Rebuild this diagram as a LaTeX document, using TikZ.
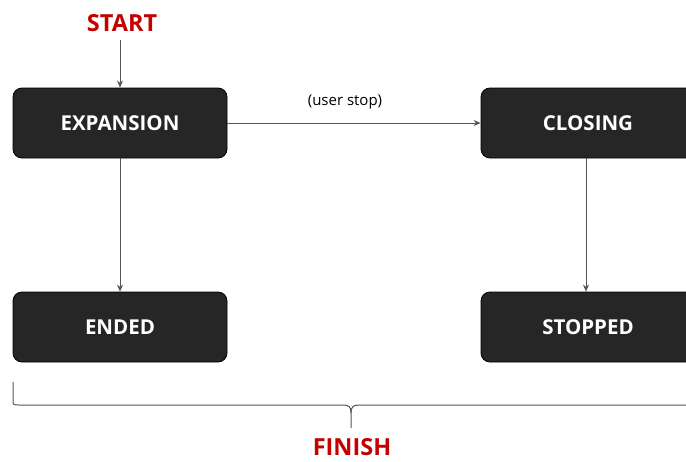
\documentclass[tikz,border=0pt]{standalone}
\usepackage{fontspec}
\setmainfont{Open Sans}
\usetikzlibrary{arrows.meta}
\definecolor{boxfill}{HTML}{262626}
\definecolor{startred}{HTML}{C40000}
\definecolor{linegray}{HTML}{555555}
\tikzset{
  state/.style={draw=black, line width=0.8pt, fill=boxfill, rounded corners=9pt,
    minimum width=214pt, minimum height=70pt, inner sep=0pt,
    text=white, font=\bfseries\fontsize{20.5}{24}\selectfont},
  marker/.style={text=startred, font=\bfseries\fontsize{23.5}{28}\selectfont, inner sep=0pt},
  flow/.style={draw=linegray, line width=1pt, -{Stealth[length=7pt,width=6pt]}},
  note/.style={font=\fontsize{15}{18}\selectfont, inner sep=0pt},
  bracket/.style={draw=linegray, line width=1pt}
}
\begin{document}
\begin{tikzpicture}[x=1pt,y=-1pt]
  \useasboundingbox (0,0) rectangle (686,461);
  \clip (0,0) rectangle (686,461);
  \fill[white] (0,0) rectangle (686,461);

  % states
  \node[state] (exp) at (120,123) {EXPANSION};
  \node[state] (clo) at (588,123) {CLOSING};
  \node[state] (end) at (120,327) {ENDED};
  \node[state] (stp) at (588,327) {STOPPED};

  % entry and exit labels
  \node[marker] (start) at (122,23) {START};
  \node[marker, anchor=base] (finish) at (352,455) {FINISH};
  \coordinate (startfoot) at (120,40);

  % transitions
  \draw[flow] (startfoot) -- (exp.north);
  \draw[flow] (exp.east) -- node[note, above=13pt, xshift=-9pt] (lbl) {(user stop)} (clo.west);
  \draw[flow] (exp.south) -- (end.north);
  \draw[flow] ([xshift=-2pt]clo.south) -- ([xshift=-2pt]stp.north);

  % brace grouping the final states
  \draw[bracket] (13,382) -- (13,401)
    .. controls (13,405) and (14,405) .. (19,405) -- (343,405)
    .. controls (349,405) and (351,407) .. (351,413) -- (351,428);
  \draw[bracket] (351,413)
    .. controls (351,407) and (353,405) .. (359,405) -- (700,405);
\end{tikzpicture}
\end{document}
